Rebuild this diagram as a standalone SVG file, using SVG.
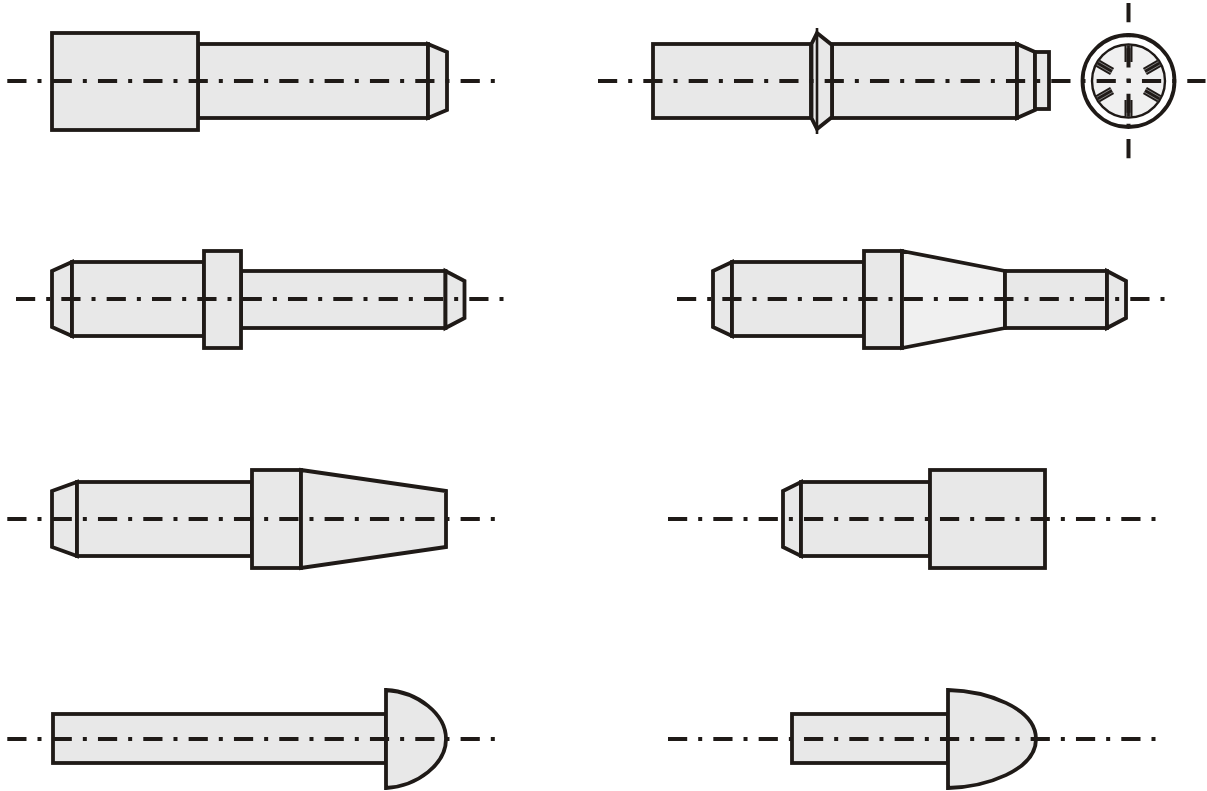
<svg xmlns="http://www.w3.org/2000/svg" width="1207" height="791" viewBox="0 0 1207 791">
<style>
.p{fill:#e8e8e8;stroke:#1f1a17;stroke-width:3.8;stroke-linejoin:miter}
.l{fill:#f0f0f0;stroke:#1f1a17;stroke-width:3.8}
.n{fill:none;stroke:#1f1a17;stroke-width:2.6}
.c{fill:none;stroke:#1f1a17;stroke-width:4;stroke-dasharray:19.2 11 4 11.13}
.h{stroke:#8a8a8a;stroke-width:.8;fill:none}
.d{fill:#1f1a17}
</style>
<defs>
<g id="slot"><rect class="d" x="1124.500" y="45.500" width="8" height="16.500"/><path class="h" d="M1126.700 45.500V62M1130.300 45.500V62"/></g>
</defs>
<rect width="1207" height="791" fill="#fff"/>
<g id="pin1">
<rect class="p" x="198" y="44" width="230" height="74"/>
<path class="p" d="M428 44L447 52V110L428 118Z"/>
<rect class="p" x="52" y="33" width="146" height="97"/>
</g>
<g id="pin2">
<rect class="p" x="653" y="44" width="158" height="74"/>
<rect class="p" x="832" y="44" width="185" height="74"/>
<path class="p" d="M811.500 44L817 33L832 45V117L817 129L811.500 118Z"/>
<path class="n" d="M817 28V134"/>
<path class="p" d="M1017 44L1035 52V110L1017 118Z"/>
<rect class="p" x="1035" y="52" width="14" height="57"/>
</g>
<g id="end-view">
<circle cx="1128.500" cy="81" r="46" fill="#fff" stroke="#1f1a17" stroke-width="3.800"/>
<circle cx="1128.500" cy="81" r="36.500" fill="#f0f0f0" stroke="#1f1a17" stroke-width="2.400"/>
<use href="#slot"/>
<use href="#slot" transform="rotate(60 1128.500 81)"/>
<use href="#slot" transform="rotate(120 1128.500 81)"/>
<use href="#slot" transform="rotate(180 1128.500 81)"/>
<use href="#slot" transform="rotate(240 1128.500 81)"/>
<use href="#slot" transform="rotate(300 1128.500 81)"/>
</g>
<g id="pin3">
<path class="p" d="M52 271L72 262V336L52 327Z"/>
<rect class="p" x="72" y="262" width="132" height="74"/>
<rect class="p" x="241" y="271" width="204.500" height="57"/>
<rect class="p" x="204" y="251" width="37" height="97"/>
<path class="p" d="M445.500 271L464.500 281V318L445.500 328Z"/>
</g>
<g id="pin4">
<path class="p" d="M713 271L732 262V336L713 327Z"/>
<rect class="p" x="732" y="262" width="132" height="74"/>
<rect class="p" x="864" y="251" width="38" height="97"/>
<path class="l" d="M902 251L1005 271V328L902 348Z"/>
<rect class="p" x="1005" y="271" width="102" height="57"/>
<path class="p" d="M1107 271L1126 281V318L1107 328Z"/>
</g>
<g id="pin5">
<path class="p" d="M52 491L77 482V556L52 547Z"/>
<rect class="p" x="77" y="482" width="175" height="74"/>
<rect class="p" x="252" y="470" width="49" height="98"/>
<path class="p" d="M301 470L446 491V547L301 568Z"/>
</g>
<g id="pin6">
<path class="p" d="M783 491L801 482V556L783 547Z"/>
<rect class="p" x="801" y="482" width="129" height="74"/>
<rect class="p" x="930" y="470" width="115" height="98"/>
</g>
<g id="pin7">
<rect class="p" x="53" y="714" width="333" height="49"/>
<path class="p" d="M386 690C418 692 446 714 446 739C446 764 418 786 386 788Z"/>
</g>
<g id="pin8">
<rect class="p" x="792" y="714" width="156" height="49"/>
<path class="p" d="M948 690C985 691 1036 707 1036 739C1036 771 985 787 948 788Z"/>
</g>
<g id="connectors">
<path class="c" d="M7.300 81H496"/>
<path class="c" d="M598 81H1205.500"/>
<path class="c" d="M1128.500 3V158.500"/>
<path class="c" d="M16 299H504.500"/>
<path class="c" d="M677 299H1165.500"/>
<path class="c" d="M7.300 519H496"/>
<path class="c" d="M668 519H1156.700"/>
<path class="c" d="M7.300 739H496"/>
<path class="c" d="M668 739H1156.700"/>
</g>
</svg>
